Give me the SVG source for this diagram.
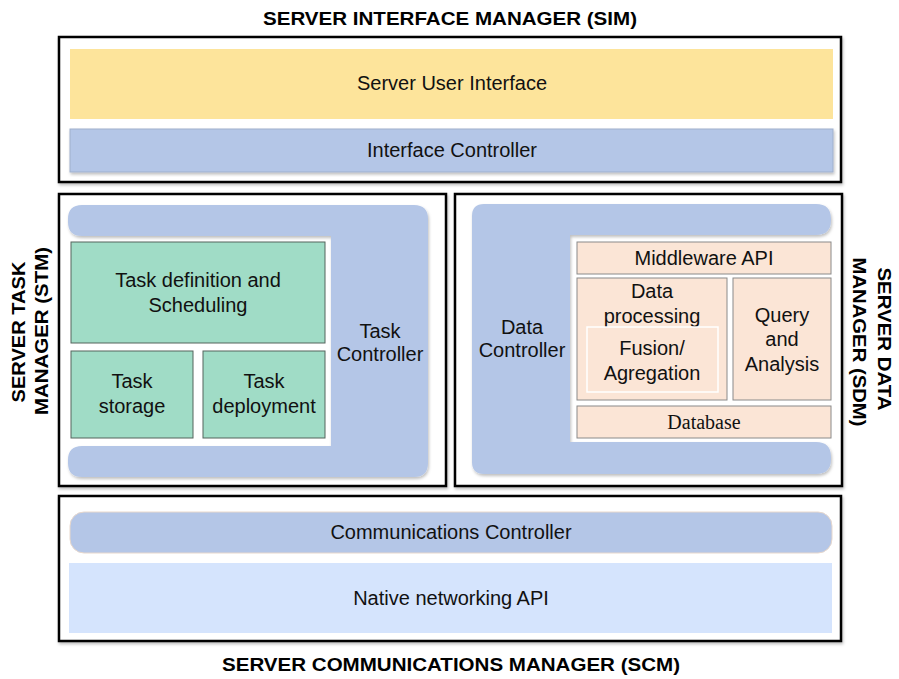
<svg xmlns="http://www.w3.org/2000/svg" width="899" height="679" viewBox="0 0 899 679">
<defs>
<filter id="sh" x="-5%" y="-5%" width="110%" height="115%">
<feDropShadow dx="1" dy="2" stdDeviation="1.5" flood-color="#000" flood-opacity="0.25"/>
</filter>
<style>
.frame{fill:#fff;stroke:#000;stroke-width:2.5}
.t{font-family:"Liberation Sans",Arial,sans-serif;font-size:20px;fill:#111;text-anchor:middle}
.ts{font-family:"Liberation Serif","Times New Roman",serif;font-size:20px;fill:#111;text-anchor:middle}
.h{font-family:"Liberation Sans",Arial,sans-serif;font-size:18px;font-weight:bold;fill:#000;text-anchor:middle}
.blue{fill:#b4c6e7}
.green{fill:#a0dcc6;stroke:#55655d;stroke-width:1}
.peach{fill:#fbe5d6;stroke:#8a8a8a;stroke-width:1}
</style>
</defs>
<rect width="899" height="679" fill="#fff"/>

<text class="h" x="450" y="25" textLength="374" lengthAdjust="spacingAndGlyphs">SERVER INTERFACE MANAGER (SIM)</text>
<text class="h" x="451" y="671" textLength="458" lengthAdjust="spacingAndGlyphs">SERVER COMMUNICATIONS MANAGER (SCM)</text>
<text class="h" transform="translate(25,332) rotate(-90)" textLength="141" lengthAdjust="spacingAndGlyphs">SERVER TASK</text>
<text class="h" transform="translate(48,331) rotate(-90)" textLength="168" lengthAdjust="spacingAndGlyphs">MANAGER (STM)</text>
<text class="h" transform="translate(878,339) rotate(90)" textLength="143" lengthAdjust="spacingAndGlyphs">SERVER DATA</text>
<text class="h" transform="translate(853,342) rotate(90)" textLength="169" lengthAdjust="spacingAndGlyphs">MANAGER (SDM)</text>

<g id="sim">
<rect class="frame" x="59" y="37" width="782" height="145" filter="url(#sh)"/>
<g id="server-user-interface">
<rect x="70" y="49" width="763" height="70" fill="#fde49b"/>
<text class="t" x="452" y="90">Server User Interface</text>
</g>
<g id="interface-controller">
<rect class="blue" x="70" y="129" width="763" height="43" stroke="#9fb0cc" stroke-width="1" filter="url(#sh)"/>
<text class="t" x="452" y="157">Interface Controller</text>
</g>
</g>

<g id="stm">
<rect class="frame" x="59" y="194" width="387" height="292" filter="url(#sh)"/>
<g id="task-controller">
<path class="blue" filter="url(#sh)" d="M82,205 H414 Q428,205 428,219 V463 Q428,477 414,477 H82 Q68,477 68,463 V460 Q68,446 82,446 H331 V236 H82 Q68,236 68,222 V219 Q68,205 82,205 Z"/>
<text class="t" x="380" y="338">Task</text>
<text class="t" x="380" y="361">Controller</text>
</g>
<g id="task-definition">
<rect class="green" x="71" y="242" width="254" height="101"/>
<text class="t" x="198" y="287">Task definition and</text>
<text class="t" x="198" y="312">Scheduling</text>
</g>
<g id="task-storage">
<rect class="green" x="71" y="351" width="122" height="87"/>
<text class="t" x="132" y="388">Task</text>
<text class="t" x="132" y="413">storage</text>
</g>
<g id="task-deployment">
<rect class="green" x="203" y="351" width="122" height="87"/>
<text class="t" x="264" y="388">Task</text>
<text class="t" x="264" y="413">deployment</text>
</g>
</g>

<g id="sdm">
<rect class="frame" x="455" y="194" width="387" height="292" filter="url(#sh)"/>
<g id="data-controller">
<path class="blue" filter="url(#sh)" d="M484,204 H816 Q831,204 831,219 V220 Q831,235 816,235 H570 V442 H816 Q831,442 831,457 V459 Q831,474 816,474 H484 Q472,474 472,462 V216 Q472,204 484,204 Z"/>
<text class="t" x="522" y="334">Data</text>
<text class="t" x="522" y="357">Controller</text>
</g>
<g id="middleware-api">
<rect class="peach" x="577" y="242" width="254" height="32"/>
<text class="t" x="704" y="265">Middleware API</text>
</g>
<g id="data-processing">
<rect class="peach" x="577" y="278" width="150" height="122"/>
<text class="t" x="652" y="298">Data</text>
<text class="t" x="652" y="323">processing</text>
<rect x="587" y="327" width="131" height="65" fill="none" stroke="#fff" stroke-width="1.5"/>
<text class="t" x="652" y="355">Fusion/</text>
<text class="t" x="652" y="380">Agregation</text>
</g>
<g id="query-analysis">
<rect class="peach" x="733" y="278" width="98" height="122"/>
<text class="t" x="782" y="322">Query</text>
<text class="t" x="782" y="346">and</text>
<text class="t" x="782" y="371">Analysis</text>
</g>
<g id="database">
<rect class="peach" x="577" y="406" width="254" height="32"/>
<text class="ts" x="704" y="429">Database</text>
</g>
</g>

<g id="scm">
<rect class="frame" x="59" y="496" width="782" height="145" filter="url(#sh)"/>
<g id="communications-controller">
<rect class="blue" x="70" y="512" width="762" height="41" rx="14" stroke="#e8d8cc" stroke-width="1"/>
<text class="t" x="451" y="539">Communications Controller</text>
</g>
<g id="native-networking-api">
<rect x="69" y="563" width="763" height="70" fill="#d5e4fd"/>
<text class="t" x="451" y="605">Native networking API</text>
</g>
</g>

<g id="connectors"></g>
</svg>
